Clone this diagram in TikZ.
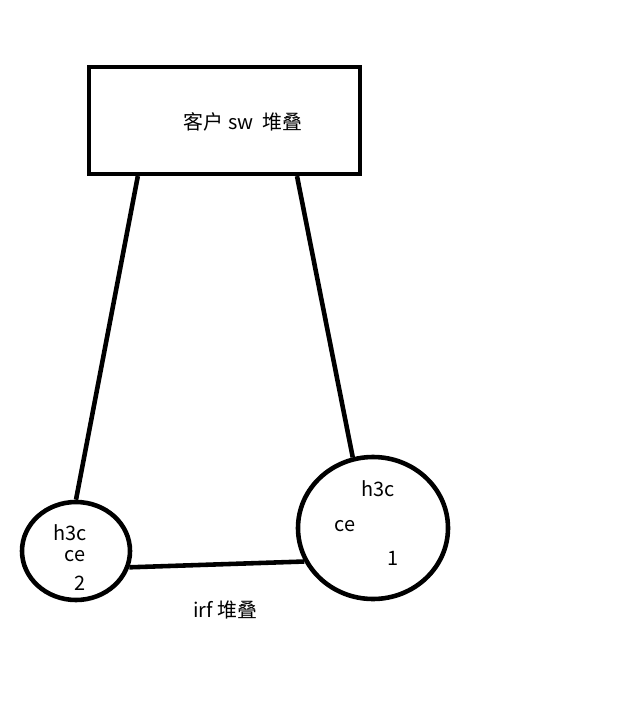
\documentclass[tikz,border=0pt]{standalone}
\usepackage{fontspec}
\setmainfont{Noto Sans CJK SC}
\usetikzlibrary{shapes.geometric}

\begin{document}
\begin{tikzpicture}[x=0.03cm, y=-0.03cm, line width=3.9pt, every node/.style={font=\fontsize{17}{19}\selectfont, inner sep=1pt}]
    \useasboundingbox (0,0) rectangle (632,708);

    % devices
    \node[draw, rectangle, inner sep=0pt, minimum width=8.13cm, minimum height=3.2cm] (sw) at (224.5,120.5) {};
    \node[draw, ellipse, inner sep=0pt, minimum width=3.24cm, minimum height=2.94cm] (ce2) at (76,551) {};
    \node[draw, ellipse, inner sep=0pt, minimum width=4.5cm, minimum height=4.26cm] (ce1) at (373,528) {};

    % links
    \draw ([xshift=-2.6cm]sw.south) -- (ce2.north);
    \draw ([xshift=2.175cm]sw.south) -- (ce1.106);
    \draw (ce2.-17) -- (ce1.206);

    % labels
    \node (swname) at (243,122) {客户 sw\ \ 堆叠};
    \node (h3ctwo) at (70,533) {h3c};
    \node (cetwo) at (75,556) {ce};
    \node (numtwo) at (80,583) {2};
    \node (h3cone) at (378,489) {h3c};
    \node (ceone) at (345,526) {ce};
    \node (numone) at (393,558) {1};
    \node (irf) at (225,610) {irf 堆叠};

\end{tikzpicture}
\end{document}
